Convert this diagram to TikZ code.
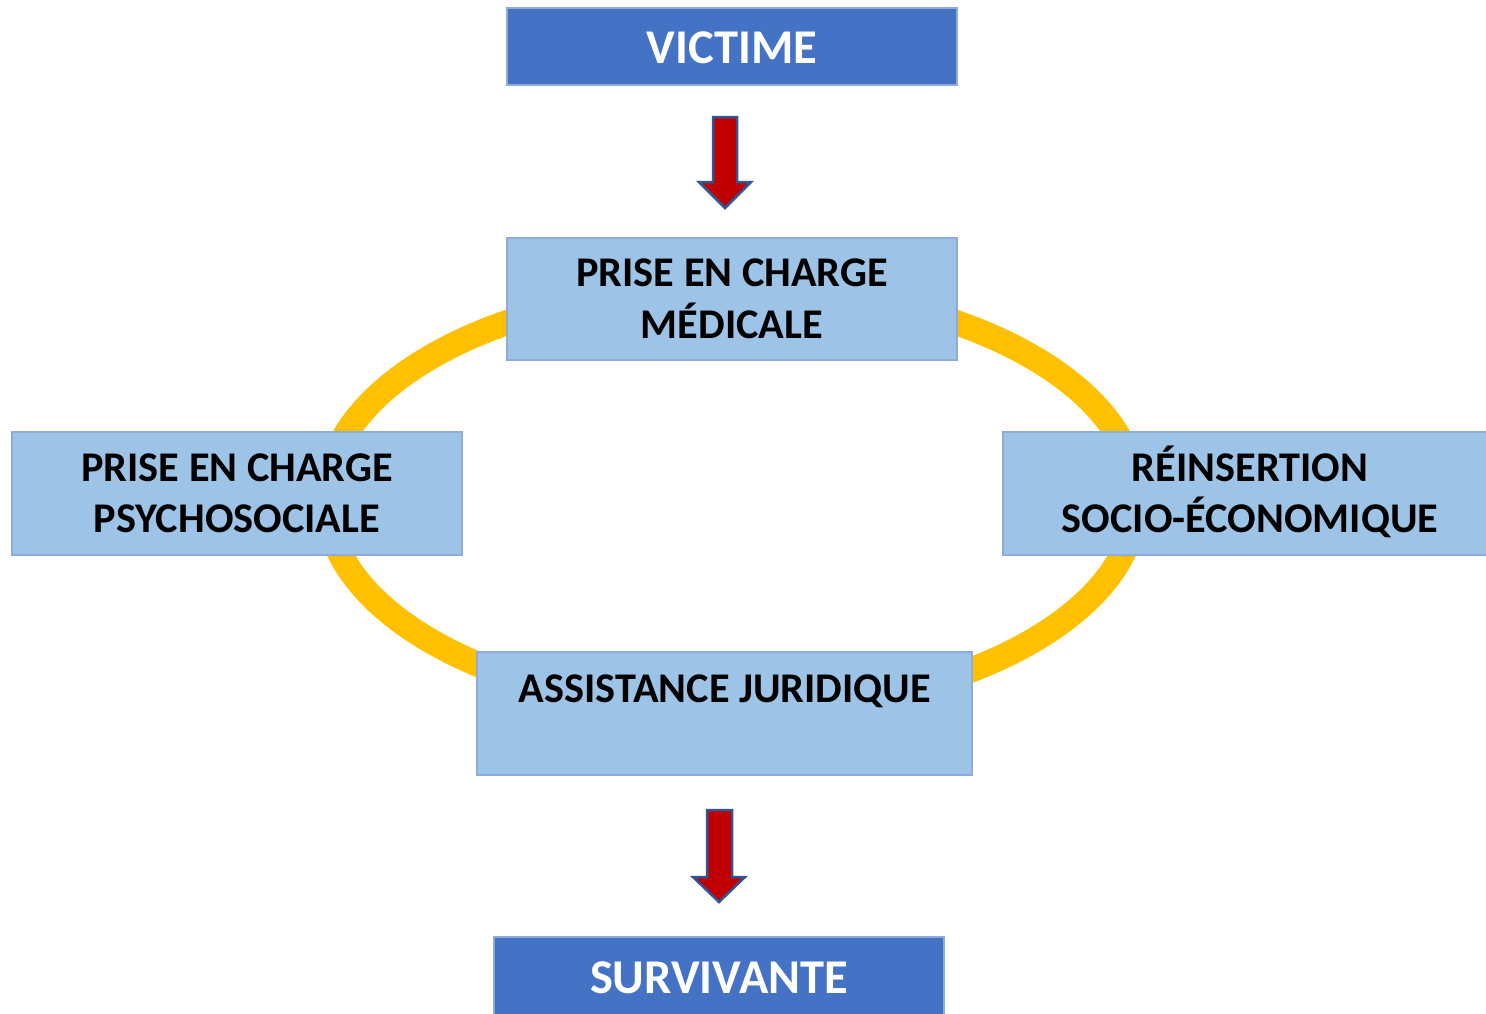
\documentclass[tikz,border=0pt]{standalone}
\usepackage{fontspec}
\setmainfont{Carlito}
\definecolor{darkbox}{HTML}{4472C4}
\definecolor{lightbox}{HTML}{9DC3E6}
\definecolor{boxedge}{HTML}{8FAADC}
\definecolor{ringcol}{HTML}{FFC000}
\definecolor{arrowred}{HTML}{C00000}
\definecolor{arrowedge}{HTML}{2F5597}
\begin{document}
\begin{tikzpicture}[x=1pt,y=-1pt,
  darkstyle/.style={draw=boxedge, line width=2pt, fill=darkbox, inner sep=0pt, outer sep=0pt},
  lightstyle/.style={draw=boxedge, line width=2pt, fill=lightbox, inner sep=0pt, outer sep=0pt},
  bigtxt/.style={anchor=base, inner sep=0pt, text=white, font=\fontsize{48.5}{58}\selectfont\bfseries},
  txt/.style={anchor=base, inner sep=0pt, text=black, font=\fontsize{42.3}{52}\selectfont\bfseries},
  blockarrow/.style={fill=arrowred, draw=arrowedge, line width=2.5pt, line join=miter}
]
\useasboundingbox (0,0) rectangle (1486,1013);
\clip (0,0) rectangle (1486,1013);
% ring
\coordinate (ringc) at (731.5,499);
\draw[ringcol, line width=25pt] (ringc) ellipse [x radius=405, y radius=212];
% boxes
\draw[darkstyle] (507,8) rectangle (957,85) coordinate (victimebox);
\node[bigtxt] (victime) at (732,63) {VICTIME};

\draw[lightstyle] (507,238) rectangle (957,360);
\node[txt] (med1) at (732,286.5) {PRISE EN CHARGE};
\node[txt] (med2) at (732,338.5) {MÉDICALE};

\draw[lightstyle] (12,432) rectangle (462,555);
\node[txt] (psy1) at (237,481.5) {PRISE EN CHARGE};
\node[txt] (psy2) at (237,532.5) {PSYCHOSOCIALE};

\draw[lightstyle] (1003,432) rectangle (1497,555);
\node[txt] (rei1) at (1250,481.5) {RÉINSERTION};
\node[txt] (rei2) at (1250,532.5) {SOCIO-ÉCONOMIQUE};

\draw[lightstyle] (477,652) rectangle (972,775);
\node[txt] (jur) at (725,702) {ASSISTANCE JURIDIQUE};

\draw[darkstyle] (494,937) rectangle (944,1025);
\node[bigtxt] (surv) at (719,993) {SURVIVANTE};
% block arrows
\coordinate (a1) at (725,117);
\draw[blockarrow] (713,117) -- (737,117) -- (737,182) -- (751,182) -- (725,208) -- (699,182) -- (713,182) -- cycle;
\coordinate (a2) at (719,810);
\draw[blockarrow] (707,810) -- (732,810) -- (732,877) -- (745,877) -- (719,902) -- (693,877) -- (707,877) -- cycle;
\end{tikzpicture}
\end{document}
